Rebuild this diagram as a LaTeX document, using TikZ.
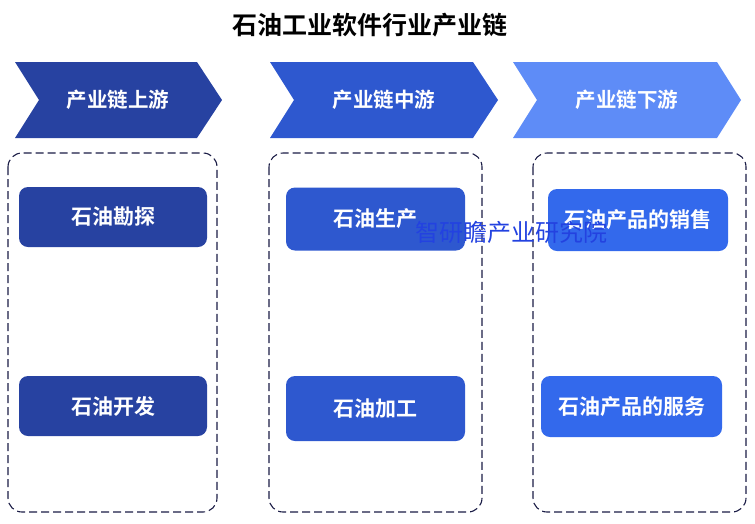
\documentclass[tikz,border=0pt]{standalone}
\usepackage{fontspec}
\setmainfont{Noto Sans CJK SC}
\newfontfamily\cjkbold{Noto Sans CJK SC Bold}
\definecolor{upblue}{HTML}{2742A1}
\definecolor{midblue}{HTML}{2E58CF}
\definecolor{downblue}{HTML}{5E8CF7}
\definecolor{boxthree}{HTML}{3369EC}
\definecolor{framenavy}{HTML}{1A1C45}
\definecolor{markblue}{HTML}{2342E0}

\tikzset{
  stagetext/.style={text=white, font=\cjkbold\fontsize{20.5}{20.5}\selectfont},
  itembox/.style={rounded corners=9pt, text=white, font=\cjkbold\fontsize{21}{21}\selectfont, inner sep=0pt},
  stageframe/.style={draw=framenavy, dash pattern=on 8pt off 4pt, rounded corners=14pt, line width=1.1pt}
}

\begin{document}
\begin{tikzpicture}[x=1pt, y=-1pt]
    \useasboundingbox (0,0) rectangle (755,523);

    % Title
    \node[font=\cjkbold\fontsize{25}{25}\selectfont] (title) at (370,25) {石油工业软件行业产业链};

    % Chevron headers
    \fill[upblue] (15,62) -- (197,62) -- (222,100) -- (197,138) -- (15,138) -- (39,100) -- cycle;
    \fill[midblue] (270,62) -- (473,62) -- (498,100) -- (473,138) -- (270,138) -- (294,100) -- cycle;
    \fill[downblue] (513,62) -- (717,62) -- (741,100) -- (717,138) -- (513,138) -- (537,100) -- cycle;
    \node[stagetext] (upstream) at (118,100) {产业链上游};
    \node[stagetext] (midstream) at (384,100) {产业链中游};
    \node[stagetext] (downstream) at (627,100) {产业链下游};

    % Dashed frames
    \draw[stageframe] (8,153) rectangle (217,512);
    \draw[stageframe] (269,153) rectangle (482,512);
    \draw[stageframe] (533,153) rectangle (746,512);

    % Items
    \node[itembox, fill=upblue, minimum width=188pt, minimum height=60pt] (explore) at (113,217) {石油勘探};
    \node[itembox, fill=upblue, minimum width=188pt, minimum height=60pt] (develop) at (113,406) {石油开发};
    \node[itembox, fill=midblue, minimum width=179pt, minimum height=63pt] (produce) at (375.5,219) {石油生产};
    \node[itembox, fill=midblue, minimum width=179pt, minimum height=65pt] (process) at (375.5,408.5) {石油加工};
    \node[itembox, fill=boxthree, minimum width=180pt, minimum height=62pt] (sales) at (638,220) {石油产品的销售};
    \node[itembox, fill=boxthree, minimum width=181pt, minimum height=61pt] (service) at (631.5,406.5) {石油产品的服务};

    % Watermark
    \node[text=markblue, font=\fontsize{24}{24}\selectfont] (mark) at (511,232) {智研瞻产业研究院};
  \end{tikzpicture}
\end{document}
